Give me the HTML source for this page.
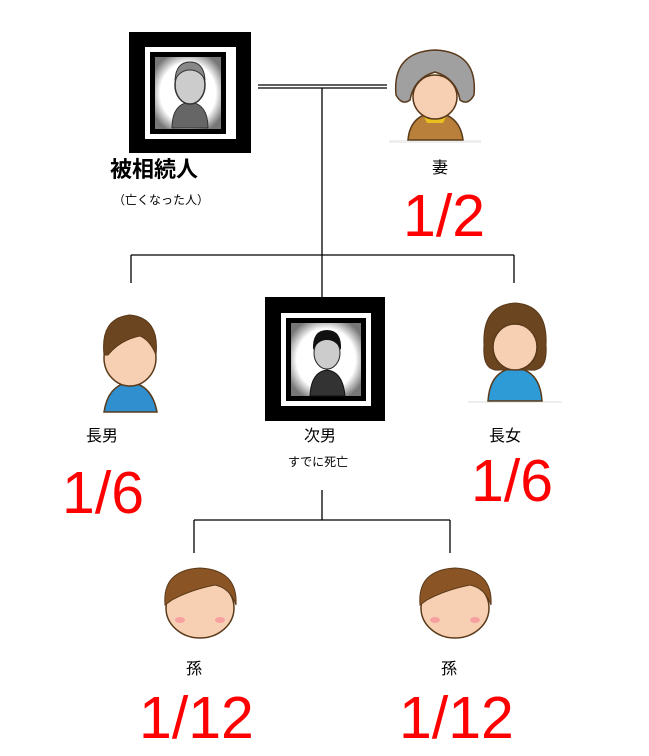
<!DOCTYPE html>
<html><head><meta charset="utf-8"><style>
body{margin:0;width:649px;height:756px;background:#fff;position:relative;overflow:hidden;font-family:"Liberation Sans","Noto Sans CJK JP",sans-serif}
.a{position:absolute;white-space:nowrap}
.r{color:#f00;font-size:59px;line-height:1}
.l{font-size:16px;line-height:1}
</style></head><body>
<svg class="a" style="left:0;top:0" width="649" height="756">
<defs>
<radialGradient id="ph" cx="50%" cy="50%" r="60%"><stop offset="0.7" stop-color="#fff"/><stop offset="1" stop-color="#777"/></radialGradient>
</defs>
<g stroke="#000" stroke-width="1.3" fill="none">
<line x1="258" y1="85" x2="387" y2="85"/><line x1="258" y1="88" x2="387" y2="88"/>
<line x1="322" y1="88" x2="322" y2="255"/>
<line x1="131" y1="255" x2="514" y2="255"/>
<line x1="131" y1="255" x2="131" y2="283"/><line x1="322" y1="255" x2="322" y2="297"/><line x1="514" y1="255" x2="514" y2="283"/>
<line x1="322" y1="490" x2="322" y2="520"/>
<line x1="194" y1="520" x2="450" y2="520"/>
<line x1="194" y1="520" x2="194" y2="553"/><line x1="450" y1="520" x2="450" y2="553"/>
</g>
<rect x="129" y="32" width="122" height="121" fill="#000"/>
<rect x="145" y="47" width="91" height="92" fill="#fff"/>
<rect x="150" y="52" width="76" height="82" fill="#000"/>
<rect x="155" y="57" width="66" height="72" fill="url(#ph)"/>
<path d="M172 128 Q172 104 190 102 Q208 104 208 128Z" fill="#666" stroke="#333"/>
<ellipse cx="190" cy="85" rx="15" ry="19" fill="#ccc" stroke="#333" stroke-width="1.5"/>
<path d="M175 80 Q176 62 190 62 Q204 62 205 80 Q200 70 190 70 Q180 70 175 80Z" fill="#888" stroke="#333"/>
<rect x="389" y="140" width="92" height="3" fill="#eee"/>
<path d="M408 140 Q410 115 435 112 Q460 115 463 140Z" fill="#b8803a" stroke="#5a3a1a" stroke-width="1.5"/>
<path d="M424 117 L446 117 L443 123 L427 123Z" fill="#e8c020"/>
<ellipse cx="435" cy="97" rx="22" ry="22" fill="#f7d0b4" stroke="#5a3a1a" stroke-width="1.5"/>
<path d="M396 95 Q392 52 435 50 Q478 52 474 95 Q468 106 460 100 Q456 78 435 72 Q414 78 410 100 Q402 106 396 95Z" fill="#a0a0a0" stroke="#5a3a1a" stroke-width="1.5"/>
<path d="M104 412 Q108 385 130 382 Q152 385 157 412Z" fill="#2f8fcf" stroke="#5a3a1a" stroke-width="1.5"/>
<ellipse cx="130" cy="358" rx="26" ry="28" fill="#f7d0b4" stroke="#5a3a1a" stroke-width="1.5"/>
<path d="M104 355 Q100 318 130 315 Q160 318 156 355 Q150 340 140 336 Q120 340 108 355Z" fill="#6b4420" stroke="#5a3a1a"/>
<rect x="265" y="297" width="120" height="124" fill="#000"/>
<rect x="281" y="313" width="90" height="93" fill="#fff"/>
<rect x="286" y="318" width="80" height="83" fill="#000"/>
<rect x="291" y="323" width="70" height="73" fill="url(#ph)"/>
<path d="M310 396 Q311 372 327 370 Q343 372 345 396Z" fill="#333" stroke="#111"/>
<ellipse cx="327" cy="353" rx="13" ry="16" fill="#ccc" stroke="#222"/>
<path d="M313 350 Q312 330 327 330 Q342 330 341 350 Q336 340 327 340 Q318 340 313 350Z" fill="#111"/>
<rect x="468" y="401" width="94" height="2" fill="#eee"/>
<path d="M488 401 Q490 370 515 368 Q540 370 542 401Z" fill="#2f9bd6" stroke="#5a3a1a" stroke-width="1.5"/>
<path d="M484 345 Q482 305 515 303 Q548 305 546 345 Q548 372 530 370 L500 370 Q482 372 484 345Z" fill="#6b4420" stroke="#5a3a1a"/>
<ellipse cx="515" cy="347" rx="22" ry="23" fill="#f7d0b4" stroke="#5a3a1a" stroke-width="1.5"/>
<path d="M492 340 Q495 315 515 313 Q535 315 538 340 Q528 325 515 322 Q500 325 492 340Z" fill="#6b4420"/>
<g id="g1">
<ellipse cx="200" cy="608" rx="34" ry="30" fill="#f7d0b4" stroke="#5a3a1a" stroke-width="1.5"/>
<path d="M165 605 Q162 570 200 568 Q238 570 236 605 Q230 588 215 585 Q190 590 172 600Z" fill="#8a5424" stroke="#5a3a1a"/>
<ellipse cx="180" cy="620" rx="5" ry="3" fill="#f6a0a0"/><ellipse cx="220" cy="620" rx="5" ry="3" fill="#f6a0a0"/>
</g>
<use href="#g1" x="255"/>
</svg>
<div class="a" style="left:110px;top:159px;font-size:22px;font-weight:bold;line-height:1">被相続人</div>
<div class="a" style="left:113px;top:194px;font-size:12px;line-height:1">（亡くなった人）</div>
<div class="a l" style="left:432px;top:161px">妻</div>
<div class="a r" style="left:403px;top:187px">1/2</div>
<div class="a l" style="left:86px;top:429px">長男</div>
<div class="a r" style="left:62px;top:464px">1/6</div>
<div class="a l" style="left:304px;top:429px">次男</div>
<div class="a" style="left:288px;top:456px;font-size:12px;line-height:1">すでに死亡</div>
<div class="a l" style="left:489px;top:429px">長女</div>
<div class="a r" style="left:471px;top:452px">1/6</div>
<div class="a l" style="left:186px;top:662px">孫</div>
<div class="a l" style="left:441px;top:662px">孫</div>
<div class="a r" style="left:139px;top:689px">1/12</div>
<div class="a r" style="left:399px;top:689px">1/12</div>
</body></html>
